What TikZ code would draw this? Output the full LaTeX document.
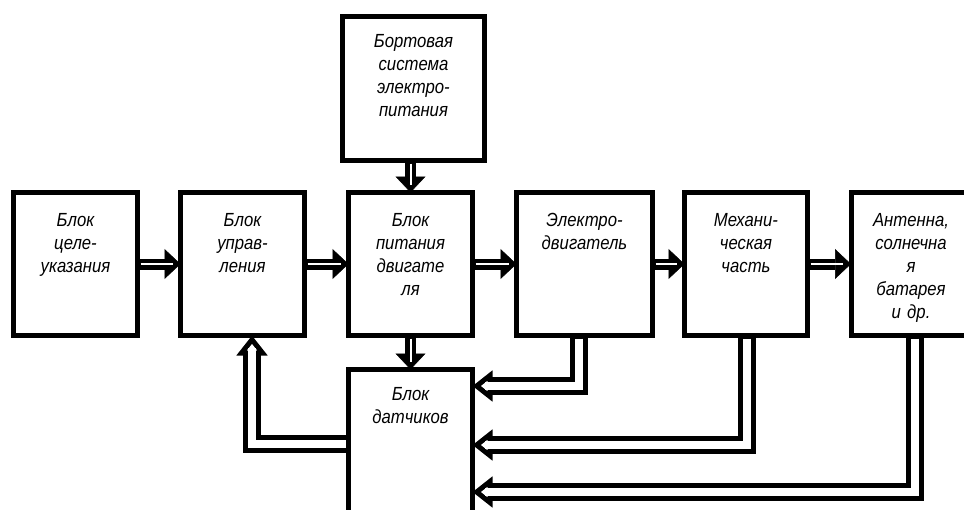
\documentclass[tikz,border=0pt]{standalone}
\usepackage{fontspec}
\setmainfont{Liberation Sans}[FakeStretch=0.88]
\usetikzlibrary{arrows.meta,calc,positioning}

\begin{document}
\begin{tikzpicture}[x=1pt,y=-1pt]

           \tikzstyle{every node}=[font=\itshape\fontsize{19}{23}\selectfont]
           \tikzstyle{blk}=[draw, line width=5pt, inner sep=0pt, outer sep=0pt, text width=112pt, align=center, minimum width=124pt, text height=34pt, text depth=109pt]
           \tikzstyle{dbl}=[draw, line width=11pt, -{Triangle[length=16pt,width=30pt,line width=0.5pt]}, postaction={draw=white, line width=2pt, -, shorten <=3pt, shorten >=8pt}]
           \tikzstyle{fb}=[draw, line width=18pt, -{Triangle[open,length=20pt,width=30pt,line width=5pt]}, postaction={draw=white, line width=8pt, -, shorten <=3pt, shorten >=12pt}]

    \useasboundingbox (0,0) rectangle (964,509);
    \clip (0,0) rectangle (964,509);

    \node[blk, minimum width=142pt, text height=31pt, text depth=113pt] (pit) at (413.5,88.5) {Бортовая\\система\\электро-\\питания};

    \node[blk] (cel) at (75.5,264) {Блок\\целе-\\указания};
    \node[blk] (upr) at (242.5,264) {Блок\\управ-\\ления};
    \node[blk] (bpd) at (410.5,264) {Блок\\питания\\двигате\\ля};
    \node[blk, minimum width=136pt] (dvg) at (584.5,264) {Электро-\\двигатель};
    \node[blk, minimum width=123pt] (meh) at (746,264) {Механи-\\ческая\\часть};
    \node[blk, minimum width=120pt] (ant) at (911,264) {Антенна,\\солнечна\\я\\батарея\\и др.};

    \node[blk, text height=31pt, text depth=200pt] (dat) at (410.5,485) {Блок\\датчиков};

    % direct chain
    \path (cel.east) edge[dbl] (upr.west);
    \path (upr.east) edge[dbl] (bpd.west);
    \path (bpd.east) edge[dbl] (dvg.west);
    \path (dvg.east) edge[dbl] (meh.west);
    \path (meh.east) edge[dbl] (ant.west);
    \path (bpd.north |- pit.south) edge[dbl] (bpd.north);
    \path (bpd.south) edge[dbl] (dat.north);

    % feedback
    \draw[fb] ([xshift=-5.5pt]dvg.south) |- ([yshift=-16.5pt]dat.north east);
    \draw[fb] ([xshift=1pt]meh.south) |- ([yshift=-75.5pt]dat.north east);
    \draw[fb] ([xshift=3.5pt]ant.south) |- ([yshift=-122.5pt]dat.north east);
    \draw[fb] ([yshift=-74.5pt]dat.north west) -| ([xshift=9.5pt]upr.south);

\end{tikzpicture}
\end{document}
